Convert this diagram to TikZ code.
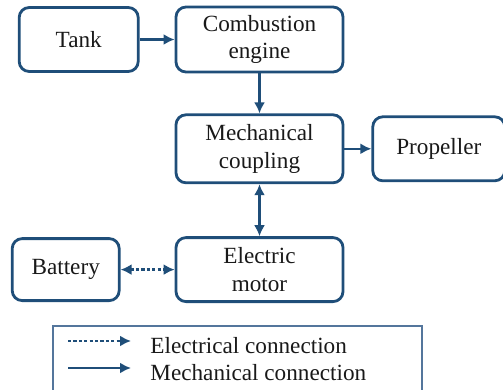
\documentclass[tikz,border=0pt]{standalone}
\usepackage{fontspec}
\setmainfont{Liberation Serif}
\newfontfamily\diagfont{Liberation Serif}
\usepackage{xcolor}
\usetikzlibrary{arrows.meta, positioning}

\definecolor{linkblue}{RGB}{31,78,121}
\definecolor{legendblue}{RGB}{84,118,156}

\begin{document}
\begin{tikzpicture}[
    x=1pt, y=1pt,
    node distance=20pt and 17.5pt,
    block/.style={rectangle, rounded corners=5pt, minimum width=83.5pt, minimum height=32.5pt, align=center, draw=linkblue, line width=1.4pt, text=black!90, inner sep=1pt, font=\diagfont\fontsize{11.6pt}{13.8pt}\selectfont},
    mecharrow/.style={-{Latex[length=5.5pt,width=5.5pt]}, draw=linkblue, line width=1.2pt},
    elecarrow/.style={mecharrow, dash pattern=on 1.6pt off 1.1pt},
    twoway/.style={{Latex[length=5.5pt,width=5.5pt]}-{Latex[length=5.5pt,width=5.5pt]}},
    legendtext/.style={anchor=base west, inner sep=0pt, text=black!90, font=\diagfont\fontsize{11.6pt}{13.8pt}\selectfont}
]
\useasboundingbox (0,0) rectangle (251.5,-195);

% Row 1: fuel side
\node (engine) [block] at (129.75,-19.75) {Combustion\\engine};
\node (tank) [block, minimum width=59.5pt, minimum height=32pt, left=of engine] {Tank};

% Row 2: coupling and output
\node (coupling) [block, minimum height=34pt, below=of engine] {Mechanical\\coupling};
\node (propeller) [block, minimum width=66pt, minimum height=32pt, right=13.5pt of coupling] {Propeller};

% Row 3: electric side
\node (motor) [block, minimum height=32pt, below=26pt of coupling] {Electric\\motor};
\node (battery) [block, minimum width=53.5pt, minimum height=31pt, left=27pt of motor] {Battery};

% Arrows
\draw [mecharrow] (tank) -- (engine);
\draw [mecharrow] (engine) -- (coupling);
\draw [mecharrow] (coupling) -- (propeller);
\draw [mecharrow, twoway] (coupling) -- (motor);
\draw [elecarrow, twoway] (battery) -- (motor);

% Legend
\coordinate (lgbl) at (26.5,-198);
\coordinate (lgtr) at (211,-163);
\draw [legendblue, line width=0.7pt] (lgbl) |- (lgtr) -- (lgtr |- lgbl);
\coordinate (elecstart) at (34,-170.5);
\coordinate (elecend) at (65.5,-170.5);
\coordinate (mechstart) at (34,-184);
\coordinate (mechend) at (65.5,-184);
\draw [elecarrow] (elecstart) -- (elecend);
\draw [mecharrow] (mechstart) -- (mechend);
\node (eleclabel) [legendtext] at (75,-176.5) {Electrical connection};
\node (mechlabel) [legendtext] at (75,-190) {Mechanical connection};
\end{tikzpicture}
\end{document}
